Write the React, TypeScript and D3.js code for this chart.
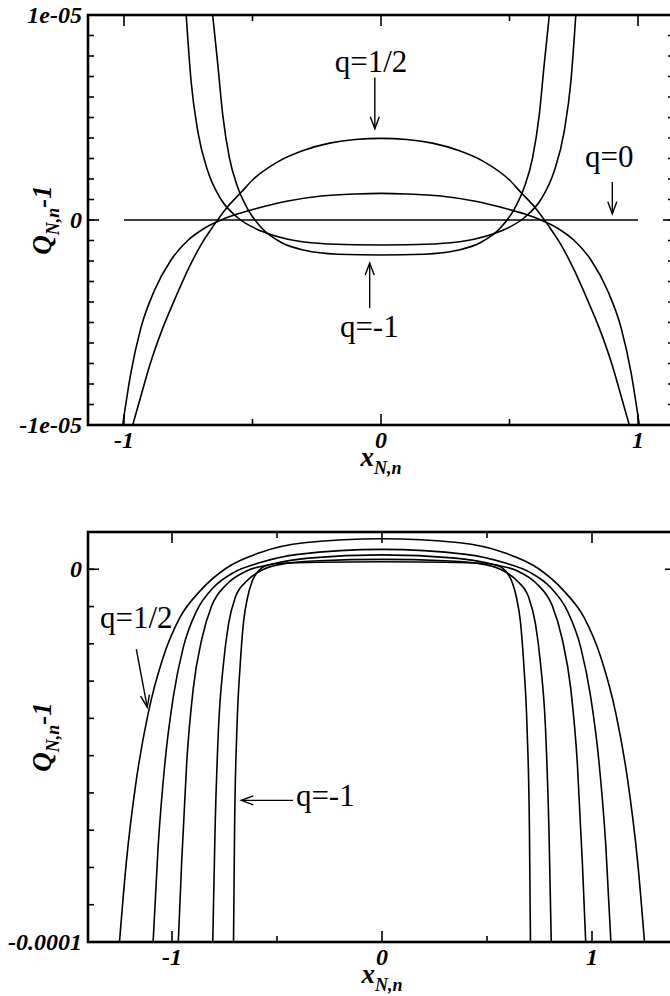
import React from 'react';
import * as d3 from 'd3';

// ---------- DATA (top panel, y in units of 1e-6) ----------
const topQHalf: [number, number][] = [
  [-0.966, -10], [-0.93, -8.4], [-0.9, -7.1], [-0.85, -5.3], [-0.8, -3.8], [-0.75, -2.4],
  [-0.7, -1.2], [-0.65, -0.25], [-0.6, 0.6], [-0.544, 1.35], [-0.5, 1.95], [-0.4, 2.85],
  [-0.3, 3.4], [-0.2, 3.75], [-0.1, 3.93], [0, 3.98], [0.1, 3.93], [0.2, 3.75], [0.3, 3.4],
  [0.4, 2.85], [0.5, 1.95], [0.544, 1.35], [0.6, 0.6], [0.65, -0.25], [0.7, -1.2],
  [0.75, -2.4], [0.8, -3.8], [0.85, -5.3], [0.9, -7.1], [0.93, -8.4], [0.966, -10],
];
const topQQuarter: [number, number][] = [
  [-1.005, -10], [-0.973, -7.45], [-0.934, -5.25], [-0.882, -3.45], [-0.817, -1.95],
  [-0.752, -1.0], [-0.687, -0.4], [-0.622, 0.0], [-0.557, 0.3], [-0.492, 0.54],
  [-0.362, 0.93], [-0.232, 1.17], [-0.1, 1.27], [0, 1.3], [0.1, 1.27], [0.232, 1.17],
  [0.362, 0.93], [0.492, 0.54], [0.557, 0.3], [0.622, 0.0], [0.687, -0.4], [0.752, -1.0],
  [0.817, -1.95], [0.882, -3.45], [0.934, -5.25], [0.973, -7.45], [1.005, -10],
];
const topQZero: [number, number][] = [[-1, 0], [1, 0]];
const topQMinusHalf: [number, number][] = [
  [-0.758, 10], [-0.739, 6.78], [-0.713, 4.34], [-0.674, 2.39], [-0.622, 1.0], [-0.557, 0.11],
  [-0.466, -0.54], [-0.362, -0.94], [-0.232, -1.15], [-0.1, -1.21], [0, -1.22], [0.1, -1.21],
  [0.232, -1.15], [0.362, -0.94], [0.466, -0.54], [0.557, 0.11], [0.622, 1.0], [0.674, 2.39],
  [0.713, 4.34], [0.739, 6.78], [0.758, 10],
];
const topQMinusOne: [number, number][] = [
  [-0.655, 10], [-0.635, 7.59], [-0.616, 5.15], [-0.59, 3.04], [-0.557, 1.58], [-0.518, 0.52],
  [-0.466, -0.37], [-0.388, -1.1], [-0.297, -1.48], [-0.168, -1.67], [0, -1.71], [0.168, -1.67],
  [0.297, -1.48], [0.388, -1.1], [0.466, -0.37], [0.518, 0.52], [0.557, 1.58], [0.59, 3.04],
  [0.616, 5.15], [0.635, 7.59], [0.655, 10],
];

// ---------- DATA (bottom panel, y in units of 1e-5) ----------
const botQHalf: [number, number][] = [
  [-1.25, -10], [-1.218, -7.89], [-1.17, -5.66], [-1.114, -3.88], [-1.042, -2.36],
  [-0.962, -1.29], [-0.866, -0.58], [-0.739, 0.04], [-0.579, 0.45], [-0.371, 0.71], [0, 0.82],
  [0.371, 0.71], [0.579, 0.45], [0.739, 0.04], [0.866, -0.58], [0.962, -1.29], [1.042, -2.36],
  [1.114, -3.88], [1.17, -5.66], [1.218, -7.89], [1.25, -10],
];
const botQQuarter: [number, number][] = [
  [-1.09, -10], [-1.066, -7.44], [-1.034, -5.21], [-0.994, -3.43], [-0.946, -2.09],
  [-0.882, -1.11], [-0.803, -0.49], [-0.707, -0.09], [-0.579, 0.18], [-0.4, 0.4], [0, 0.535],
  [0.4, 0.4], [0.579, 0.18], [0.707, -0.09], [0.803, -0.49], [0.882, -1.11], [0.946, -2.09],
  [0.994, -3.43], [1.034, -5.21], [1.066, -7.44], [1.09, -10],
];
const botQZero: [number, number][] = [
  [-0.97, -10], [-0.954, -7.86], [-0.93, -5.19], [-0.899, -3.21], [-0.858, -1.87],
  [-0.811, -0.98], [-0.739, -0.4], [-0.643, -0.04], [-0.531, 0.13], [-0.35, 0.3], [0, 0.385],
  [0.35, 0.3], [0.531, 0.13], [0.643, -0.04], [0.739, -0.4], [0.811, -0.98], [0.858, -1.87],
  [0.899, -3.21], [0.93, -5.19], [0.954, -7.86], [0.97, -10],
];
const botQMinusHalf: [number, number][] = [
  [-0.806, -10], [-0.795, -6.99], [-0.779, -4.32], [-0.755, -2.54], [-0.731, -1.47],
  [-0.699, -0.76], [-0.643, -0.31], [-0.563, 0.0], [-0.451, 0.16], [-0.3, 0.23], [0, 0.265],
  [0.3, 0.23], [0.451, 0.16], [0.563, 0.0], [0.643, -0.31], [0.699, -0.76], [0.731, -1.47],
  [0.755, -2.54], [0.779, -4.32], [0.795, -6.99], [0.806, -10],
];
const botQMinusOne: [number, number][] = [
  [-0.707, -10], [-0.702, -6.95], [-0.691, -4.3], [-0.675, -2.54], [-0.659, -1.4],
  [-0.64, -0.75], [-0.62, -0.35], [-0.59, -0.05], [-0.55, 0.1], [-0.48, 0.16], [-0.3, 0.19],
  [0, 0.2], [0.3, 0.19], [0.48, 0.16], [0.55, 0.1], [0.59, -0.05], [0.62, -0.35], [0.64, -0.75],
  [0.659, -1.4], [0.675, -2.54], [0.691, -4.3], [0.702, -6.95], [0.707, -10],
];

const topYTicks = [1e-5, 0, -1e-5];
const topYTickLabels = ['1e-05', '0', '-1e-05'];
const botYTicks = [0, -1e-4];
const botYTickLabels = ['0', '-0.0001'];
const xMajorTicks = [-1, 0, 1];
const xTickLabels = ['-1', '0', '1'];
const xMinorTicks = [-0.5, 0.5];

const FONT = '"Liberation Serif", "Times New Roman", serif';

type Ann = { text: string; tx: number; ty: number; ax1: number; ay1: number; ax2: number; ay2: number };

function Arrow({ x1, y1, x2, y2 }: { x1: number; y1: number; x2: number; y2: number }) {
  const ang = Math.atan2(y2 - y1, x2 - x1);
  const L = 12, Wd = 4.5;
  const bx = x2 - L * Math.cos(ang), by = y2 - L * Math.sin(ang);
  const px = -Math.sin(ang) * Wd, py = Math.cos(ang) * Wd;
  return (
    <g stroke="#000" strokeWidth={1.4} fill="none">
      <line x1={x1} y1={y1} x2={x2} y2={y2} />
      <polyline points={`${bx + px},${by + py} ${x2},${y2} ${bx - px},${by - py}`} />
    </g>
  );
}

function Panel(props: {
  id: string; left: number; right: number; top: number; bottom: number;
  xDom: [number, number]; yDom: [number, number]; yUnit: number;
  curves: [number, number][][]; yMajor: number[]; yLabels: string[]; yMinorStep: number;
  anns: Ann[];
}) {
  const { id, left, right, top, bottom, xDom, yDom, yUnit, curves, yMajor, yLabels, yMinorStep, anns } = props;
  const x = d3.scaleLinear().domain(xDom).range([left, right]);
  const y = d3.scaleLinear().domain(yDom).range([bottom, top]);
  const line = d3.line<[number, number]>()
    .x(d => x(d[0]))
    .y(d => y(d[1] * yUnit))
    .curve(d3.curveMonotoneX);
  const yMinor: number[] = [];
  const n0 = Math.ceil(yDom[0] / yMinorStep - 1e-9), n1 = Math.floor(yDom[1] / yMinorStep + 1e-9);
  for (let i = n0; i <= n1; i++) yMinor.push(i * yMinorStep);
  const MJ = 11, MN = 6;
  const midY = (top + bottom) / 2;
  return (
    <g>
      <defs>
        <clipPath id={id}>
          <rect x={left} y={top} width={right - left} height={bottom - top} />
        </clipPath>
      </defs>
      <g clipPath={`url(#${id})`} fill="none" stroke="#000" strokeWidth={1.6}>
        {curves.map((c, i) => <path key={i} d={line(c) || ''} />)}
      </g>
      <g stroke="#000" strokeWidth={1.6}>
        {xMajorTicks.map(t => (
          <g key={'xm' + t}>
            <line x1={x(t)} x2={x(t)} y1={bottom} y2={bottom - MJ} />
            <line x1={x(t)} x2={x(t)} y1={top} y2={top + MJ} />
          </g>
        ))}
        {xMinorTicks.map(t => (
          <g key={'xn' + t}>
            <line x1={x(t)} x2={x(t)} y1={bottom} y2={bottom - MN} />
            <line x1={x(t)} x2={x(t)} y1={top} y2={top + MN} />
          </g>
        ))}
        {yMinor.map(t => (
          <g key={'yn' + t}>
            <line x1={left} x2={left + MN} y1={y(t)} y2={y(t)} />
            <line x1={right} x2={right - MN} y1={y(t)} y2={y(t)} />
          </g>
        ))}
        {yMajor.map(t => (
          <g key={'ym' + t}>
            <line x1={left} x2={left + MJ} y1={y(t)} y2={y(t)} />
            <line x1={right} x2={right - MJ} y1={y(t)} y2={y(t)} />
          </g>
        ))}
      </g>
      <rect x={left} y={top} width={right - left} height={bottom - top} fill="none" stroke="#000" strokeWidth={2.6} />
      <g fontFamily={FONT} fontWeight="bold" fontStyle="italic" fontSize={24} fill="#000">
        {xMajorTicks.map((t, i) => (
          <text key={'xl' + t} x={x(t)} y={bottom + 23} textAnchor="middle">{xTickLabels[i]}</text>
        ))}
        {yMajor.map((t, i) => (
          <text key={'yl' + t} x={left - 6} y={y(t) + 8} textAnchor="end">{yLabels[i]}</text>
        ))}
      </g>
      <text x={x(0)} y={bottom + 41} fontFamily={FONT} fontWeight="bold" fontStyle="italic" fontSize={27} textAnchor="middle">
        x<tspan fontSize={18} dy={8}>N,n</tspan>
      </text>
      <text transform={`translate(51,${midY}) rotate(-90)`} fontFamily={FONT} fontWeight="bold" fontStyle="italic" fontSize={27} textAnchor="middle">
        Q<tspan fontSize={18} dy={8}>N,n</tspan><tspan dy={-8}>-1</tspan>
      </text>
      {anns.map((a, i) => (
        <g key={'a' + i}>
          <text x={x(a.tx)} y={y(a.ty)} fontFamily={FONT} fontSize={31} fill="#000">{a.text}</text>
          <Arrow x1={x(a.ax1)} y1={y(a.ay1)} x2={x(a.ax2)} y2={y(a.ay2)} />
        </g>
      ))}
    </g>
  );
}

export default function App() {
  const topAnns: Ann[] = [
    { text: 'q=1/2', tx: -0.18, ty: 7.2e-6, ax1: -0.024, ay1: 6.95e-6, ax2: -0.024, ay2: 4.45e-6 },
    { text: 'q=-1', tx: -0.16, ty: -5.7e-6, ax1: -0.044, ay1: -4.3e-6, ax2: -0.044, ay2: -2.1e-6 },
    { text: 'q=0', tx: 0.794, ty: 2.6e-6, ax1: 0.9, ay1: 1.85e-6, ax2: 0.9, ay2: 0.3e-6 },
  ];
  const botAnns: Ann[] = [
    { text: 'q=1/2', tx: -1.343, ty: -15.7e-6, ax1: -1.17, ay1: -21.4e-6, ax2: -1.118, ay2: -37e-6 },
    { text: 'q=-1', tx: -0.41, ty: -63.5e-6, ax1: -0.424, ay1: -62e-6, ax2: -0.67, ay2: -62e-6 },
  ];
  return (
    <svg width={670} height={996} style={{ display: 'block', position: 'absolute', left: 0, top: 0, background: '#fff' }}>
      <rect x={0} y={0} width={670} height={996} fill="#fff" />
      <Panel id="clipTop" left={88} right={674} top={15} bottom={425}
        xDom={[-1.14, 1.14]} yDom={[-1e-5, 1e-5]} yUnit={1e-6}
        curves={[topQHalf, topQQuarter, topQZero, topQMinusHalf, topQMinusOne]}
        yMajor={topYTicks} yLabels={topYTickLabels} yMinorStep={1e-6} anns={topAnns} />
      <Panel id="clipBot" left={88} right={676} top={532} bottom={942}
        xDom={[-1.4, 1.4]} yDom={[-1e-4, 1e-5]} yUnit={1e-5}
        curves={[botQHalf, botQQuarter, botQZero, botQMinusHalf, botQMinusOne]}
        yMajor={botYTicks} yLabels={botYTickLabels} yMinorStep={1e-5} anns={botAnns} />
    </svg>
  );
}
